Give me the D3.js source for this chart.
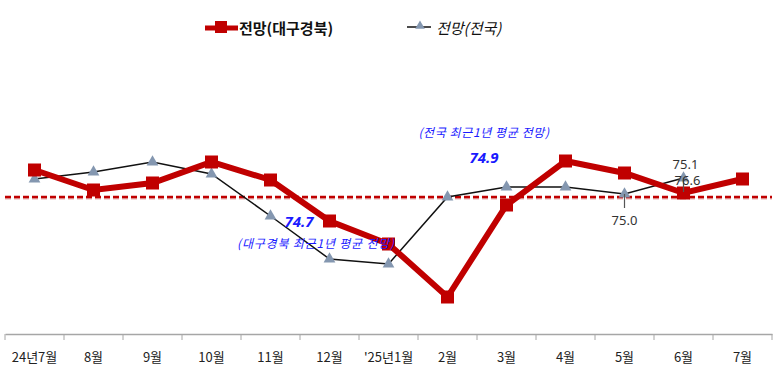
<!DOCTYPE html>
<html><head><meta charset="utf-8">
<script src="https://cdn.jsdelivr.net/npm/d3@7"></script>
<style>body{margin:0;background:#fff}svg{display:block;font-family:"Noto Sans CJK KR","Noto Sans",sans-serif}</style>
</head><body><svg id="c" width="780" height="381"></svg>
<script>
const categories = ["24년7월","8월","9월","10월","11월","12월","'25년1월","2월","3월","4월","5월","6월","7월"];
const regional = [80.4,76.4,77.8,82.0,78.4,70.2,65.6,55.0,73.4,82.2,79.8,75.8,78.6];
const national = [78.6,80.0,82.0,79.6,71.2,62.6,61.6,75.0,77.0,77.0,75.6,78.8,null];
const averageLine = 75.0;
const seriesNames = ["전망(대구경북)","전망(전국)"];

const svg = d3.select("#c");
const x = d3.scaleBand().domain(categories).range([5,772]);
const y = d3.scaleLinear().domain([47.6,94.4]).range([334,100]);
const cx = d => x(d)+x.bandwidth()/2;

// axis
const ax = svg.append("g").attr("transform","translate(0,334)")
  .call(d3.axisBottom(x).tickSize(0).tickPadding(19));
ax.select(".domain").attr("stroke","#a6a6a6").attr("stroke-width",1.3);
ax.selectAll("text").attr("font-size",13).attr("fill","#222").attr("font-family","Noto Sans CJK KR");
const bounds = categories.map(c=>x(c)).concat([x(categories[12])+x.bandwidth()]);
svg.selectAll(".tk").data(bounds).join("line")
  .attr("x1",d=>d).attr("x2",d=>d).attr("y1",334).attr("y2",340)
  .attr("stroke","#a6a6a6").attr("stroke-width",1);

// average dashed line
svg.append("line").attr("x1",5).attr("x2",772).attr("y1",y(averageLine)+1).attr("y2",y(averageLine)+1)
  .attr("stroke","#e8b0b0").attr("stroke-width",3).attr("stroke-dasharray","6,3");
svg.append("line").attr("x1",5).attr("x2",772).attr("y1",y(averageLine)).attr("y2",y(averageLine))
  .attr("stroke","#c00000").attr("stroke-width",2.5).attr("stroke-dasharray","6,3");

// national line
const natPts = categories.map((c,i)=>({c,v:national[i]})).filter(d=>d.v!=null);
svg.append("path").datum(natPts)
  .attr("d",d3.line().x(d=>cx(d.c)).y(d=>y(d.v)))
  .attr("fill","none").attr("stroke","#111").attr("stroke-width",1.5);
const tri = d3.symbol().type(d3.symbolTriangle).size(60);
svg.selectAll(".tri").data(natPts).join("path")
  .attr("d",tri).attr("transform",d=>`translate(${cx(d.c)},${y(d.v)})`)
  .attr("fill","#8497b0");

// regional line
const regPts = categories.map((c,i)=>({c,v:regional[i]}));
svg.append("path").datum(regPts)
  .attr("d",d3.line().x(d=>cx(d.c)).y(d=>y(d.v)))
  .attr("fill","none").attr("stroke","#c00000").attr("stroke-width",6).attr("stroke-linejoin","miter");
svg.selectAll(".sq").data(regPts).join("rect")
  .attr("x",d=>cx(d.c)-6.5).attr("y",d=>y(d.v)-6.5).attr("width",13).attr("height",13)
  .attr("fill","#c00000");

// leader lines and value labels
[{c:"5월",v:national[10]},{c:"6월",v:national[11]}].forEach(l=>{
  svg.append("line").attr("x1",cx(l.c)).attr("x2",cx(l.c)).attr("y1",y(l.v)).attr("y2",y(l.v)+14)
    .attr("stroke","#555").attr("stroke-width",1.2);
});
svg.append("text").attr("x",cx("5월")).attr("y",y(national[10])+31).attr("text-anchor","middle")
  .attr("font-size",13).attr("fill","#333").attr("font-family","Noto Sans").text("75.0");
svg.append("text").attr("x",cx("6월")+2).attr("y",y(national[11])-9).attr("text-anchor","middle")
  .attr("font-size",13).attr("fill","#333").attr("font-family","Noto Sans").text("75.1");
svg.append("text").attr("x",cx("6월")+4).attr("y",y(national[11])+7).attr("text-anchor","middle")
  .attr("font-size",13).attr("fill","#333").attr("font-family","Noto Sans").text("76.6");

// annotations
const blue="#1a1aff";
svg.append("text").attr("x",484).attr("y",137).attr("text-anchor","middle").attr("font-size",12)
  .attr("letter-spacing",0.6).attr("font-style","italic").attr("fill",blue).text("(전국 최근1년 평균 전망)");
svg.append("text").attr("x",484).attr("y",163).attr("text-anchor","middle").attr("font-size",15)
  .attr("font-style","italic").attr("font-weight","bold").attr("fill",blue).attr("font-family","Noto Sans").text("74.9");
svg.append("text").attr("x",299).attr("y",227).attr("text-anchor","middle").attr("font-size",15)
  .attr("font-style","italic").attr("font-weight","bold").attr("fill",blue).attr("font-family","Noto Sans").text("74.7");
svg.append("text").attr("x",316).attr("y",248).attr("text-anchor","middle").attr("font-size",12)
  .attr("letter-spacing",0.8).attr("font-style","italic").attr("fill",blue).text("(대구경북 최근1년 평균 전망)");

// legend
const lg = svg.append("g");
lg.append("line").attr("x1",205).attr("x2",238).attr("y1",28).attr("y2",28).attr("stroke","#c00000").attr("stroke-width",5);
lg.append("rect").attr("x",215).attr("y",21).attr("width",12).attr("height",12).attr("fill","#c00000");
lg.append("text").attr("x",239).attr("y",34).attr("font-size",15).attr("font-weight","bold").attr("fill","#111").text(seriesNames[0]);
lg.append("line").attr("x1",407).attr("x2",431).attr("y1",27).attr("y2",27).attr("stroke","#111").attr("stroke-width",1.5);
lg.append("path").attr("d",d3.symbol().type(d3.symbolTriangle).size(40)).attr("transform","translate(420,26)").attr("fill","#8497b0");
lg.append("text").attr("x",436).attr("y",34).attr("font-size",15).attr("font-style","italic").attr("fill","#111").text(seriesNames[1]);
</script></body></html>
